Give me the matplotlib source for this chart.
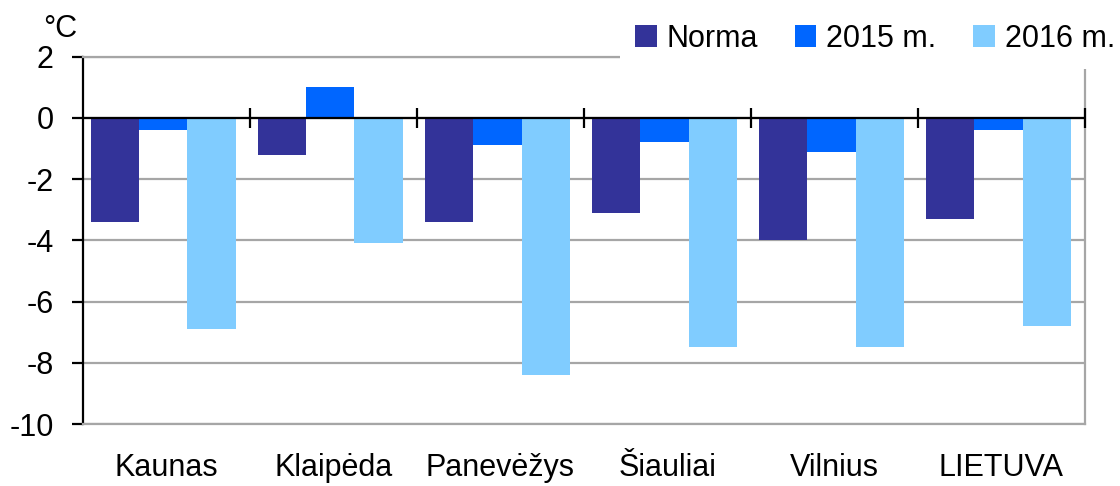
import numpy as np
import matplotlib
matplotlib.use("Agg")
import matplotlib.pyplot as plt

# Air temperature anomalies by station, °C
cities = ["Kaunas", "Klaipėda", "Panevėžys", "Šiauliai", "Vilnius", "LIETUVA"]
series_names = ["Norma", "2015 m.", "2016 m."]
norma = [-3.4, -1.2, -3.4, -3.1, -4.0, -3.3]
y2015 = [-0.4, 1.0, -0.9, -0.8, -1.1, -0.4]
y2016 = [-6.9, -4.1, -8.4, -7.5, -7.5, -6.8]
y_ticks = [-10, -8, -6, -4, -2, 0, 2]

colors = ["#333399", "#0066ff", "#80ccff"]
grid_gray = "#a6a6a6"

plt.rcParams["font.family"] = ["Liberation Sans", "DejaVu Sans"]
FS = 22

W, H = 1120, 486
fig = plt.figure(figsize=(W / 100, H / 100), dpi=100)
left, right, top, bottom = 82.7, 1085, 56.7, 424
ax = fig.add_axes([left / W, 1 - bottom / H, (right - left) / W, (bottom - top) / H])

x = np.arange(len(cities))
width = 0.29
shift = -0.018
handles = []
for j, (vals, c) in enumerate(zip([norma, y2015, y2016], colors)):
    b = ax.bar(x + (j - 1) * width + shift, vals, width=width, color=c,
               edgecolor="none", zorder=2, label=series_names[j])
    handles.append(b)

ax.set_xlim(-0.5, len(cities) - 0.5)
ax.set_ylim(min(y_ticks), max(y_ticks))
ax.set_yticks(y_ticks)
ax.set_yticklabels([str(v) for v in y_ticks])
ax.yaxis.grid(True, color=grid_gray, lw=1.6)
ax.set_axisbelow(True)

# zero line with group separators
ax.axhline(0, color="black", lw=1.6, zorder=3)
ax.plot(x + 0.5, np.zeros(len(cities)), ls="none", marker="|", ms=14, mew=1.6,
        color="black", zorder=4, clip_on=False)

ax.set_xticks(x)
ax.set_xticklabels(cities)
ax.tick_params(axis="x", length=0, pad=21, labelsize=FS)
ax.tick_params(axis="y", length=8, width=1.6, pad=13, labelsize=FS, color="black")

for s in ["top", "right", "bottom"]:
    ax.spines[s].set_color(grid_gray)
    ax.spines[s].set_linewidth(1.6)
ax.spines["left"].set_color("black")
ax.spines["left"].set_linewidth(1.6)

fig.text(43 / W, 1 - 37 / H, "°C", fontsize=FS, ha="left", va="baseline")

fig.legend(handles, series_names, ncol=3, loc="lower left",
           bbox_to_anchor=(620 / W, 1 - 69 / H), borderaxespad=0,
           frameon=True, facecolor="white", edgecolor="none", framealpha=1,
           fancybox=False, handlelength=0.7, handleheight=0.7,
           handletextpad=0.33, columnspacing=1.2, borderpad=0.5, fontsize=FS)

fig.savefig("out.png", dpi=100)
